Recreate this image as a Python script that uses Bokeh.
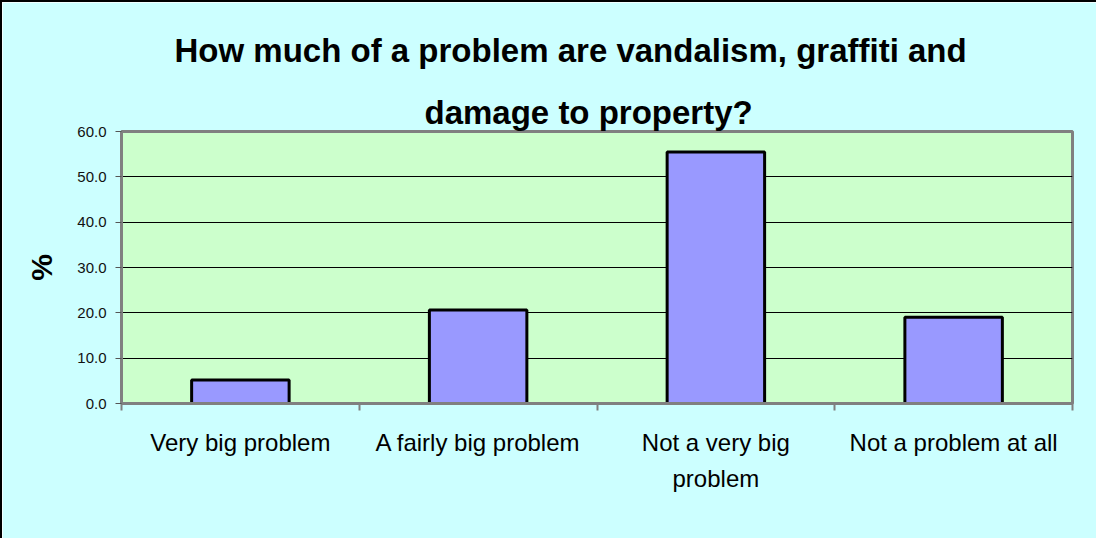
from bokeh.plotting import figure
from bokeh.models import Title, Range1d, FixedTicker, NumeralTickFormatter
from bokeh.embed import file_html
from bokeh.resources import INLINE

# ---- data ----
categories = ["Very big problem", "A fairly big problem", "Not a very big\nproblem", "Not a problem at all"]
percent = [5.2, 20.6, 55.5, 19.0]
y_ticks = [0, 10, 20, 30, 40, 50, 60]
title_line1 = "How much of a problem are vandalism, graffiti and"
title_line2 = "damage to property?"

FONT = "Liberation Sans"

n = len(categories)
centers = [i + 0.5 for i in range(n)]
bounds = list(range(n + 1))

p = figure(x_range=Range1d(0, n), y_range=Range1d(0, 60),
           width=1096, height=538, output_backend="svg", toolbar_location=None,
           min_border_left=119, min_border_right=26, min_border_top=129, min_border_bottom=137,
           background_fill_color="#CCFFCC", border_fill_color="#CCFFFF")
p.styles = {"border-left": "2px solid #000000", "border-top": "2px solid #000000"}

p.outline_line_color = "#808080"
p.outline_line_width = 3

# bars
p.vbar(x=centers, top=percent, width=0.41, fill_color="#9999FF",
       line_color="#000000", line_width=3)

# y axis
ya = p.yaxis[0]
ya.ticker = FixedTicker(ticks=y_ticks)
ya.formatter = NumeralTickFormatter(format="0.0")
ya.axis_line_color = "#808080"
ya.axis_line_width = 3
ya.major_tick_in = 0
ya.major_tick_out = 6
ya.major_tick_line_color = "#555555"
ya.major_tick_line_width = 1
ya.minor_tick_line_color = None
ya.major_label_text_font = FONT
ya.major_label_text_font_size = "15px"
ya.major_label_text_color = "#111111"
ya.major_label_standoff = 9
ya.axis_label = "%"
ya.axis_label_text_font = FONT
ya.axis_label_text_font_size = "30px"
ya.axis_label_text_font_style = "bold"
ya.axis_label_text_color = "#000000"
ya.axis_label_standoff = 16

p.ygrid.grid_line_color = "#000000"
p.ygrid.grid_line_width = 1
p.ygrid.ticker = FixedTicker(ticks=y_ticks)
p.xgrid.visible = False

# x axis: labels at category centres, tick marks at category boundaries
xa = p.xaxis[0]
xa.ticker = FixedTicker(ticks=centers, minor_ticks=bounds)
xa.major_label_overrides = {c: lab for c, lab in zip(centers, categories)}
xa.axis_line_color = "#808080"
xa.axis_line_width = 3
xa.major_tick_line_color = None
xa.major_tick_in = 0
xa.major_tick_out = 0
xa.minor_tick_line_color = "#808080"
xa.minor_tick_line_width = 2
xa.minor_tick_in = 0
xa.minor_tick_out = 7
xa.major_label_standoff = 18
xa.major_label_text_font = FONT
xa.major_label_text_font_size = "24px"
xa.major_label_text_color = "#000000"
xa.major_label_text_line_height = 1.35

# titles
t2 = Title(text=title_line2, align="left", text_font=FONT, text_font_size="33px",
           text_font_style="bold", text_color="#000000", standoff=2, offset=303)
t1 = Title(text=title_line1, align="left", text_font=FONT, text_font_size="33px",
           text_font_style="bold", text_color="#000000", standoff=43, offset=53)
p.add_layout(t2, "above")
p.add_layout(t1, "above")

open("out.html", "w").write(file_html(p, INLINE))
